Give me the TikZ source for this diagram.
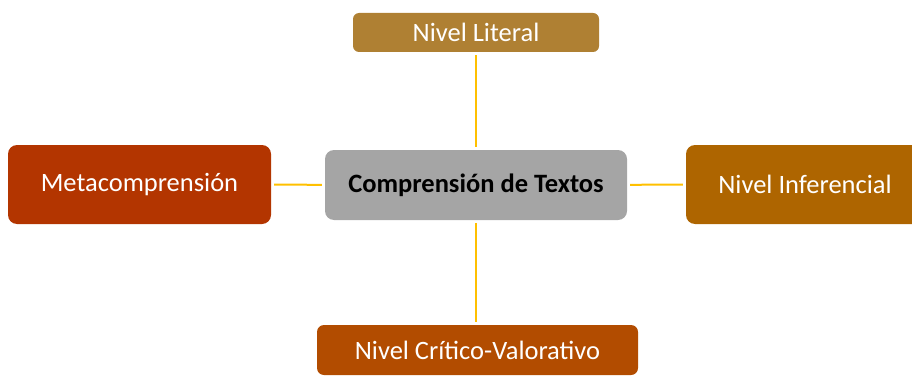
\documentclass[tikz,border=0pt]{standalone}
\usepackage{fontspec}
\setmainfont{Carlito}
\usetikzlibrary{positioning}
\definecolor{colLiteral}{HTML}{AF8033}
\definecolor{colMeta}{HTML}{B33500}
\definecolor{colCentro}{HTML}{A5A5A5}
\definecolor{colInferencial}{HTML}{AE6500}
\definecolor{colCritico}{HTML}{B24C00}
\definecolor{colLinea}{HTML}{FFC000}
\tikzset{nivel/.style={rounded corners=9pt, text=white, inner sep=0pt,
    font=\fontsize{26.5}{30}\selectfont}}
\tikzset{enlace/.style={draw=colLinea, line width=2pt, shorten <=3pt, shorten >=3pt}}

\begin{document}
\begin{tikzpicture}[x=1pt, y=-1pt]
    \useasboundingbox (0, 0) rectangle (912, 377);

    \node[nivel, fill=colCentro, text=black, minimum width=302pt, minimum height=70pt,
        font=\fontsize{26.5}{30}\selectfont\bfseries] (CENTRO) at (476, 185)
        {Comprensión de Textos};
    \node[nivel, rounded corners=6pt, fill=colLiteral, minimum width=246pt, minimum height=39pt]
        (LITERAL) at (476, 32.5) {Nivel Literal};
    \node[nivel, fill=colMeta, minimum width=263pt, minimum height=79pt]
        (META) at (139.5, 184.5) {Metacomprensión};
    \node[nivel, fill=colInferencial, minimum width=238pt, minimum height=79pt]
        (INFER) at (805, 184.5) {Nivel Inferencial};
    \node[nivel, rounded corners=7pt, fill=colCritico, minimum width=321pt, minimum height=50pt]
        (CRITICO) at (477.5, 350) {Nivel Crítico-Valorativo};

    \draw[enlace] (CENTRO) -- (LITERAL);
    \draw[enlace] (CENTRO) -- (META);
    \draw[enlace] (CENTRO) -- (INFER);
    \draw[enlace] (CENTRO.south) -- (CENTRO.south |- CRITICO.north);
\end{tikzpicture}
\end{document}
